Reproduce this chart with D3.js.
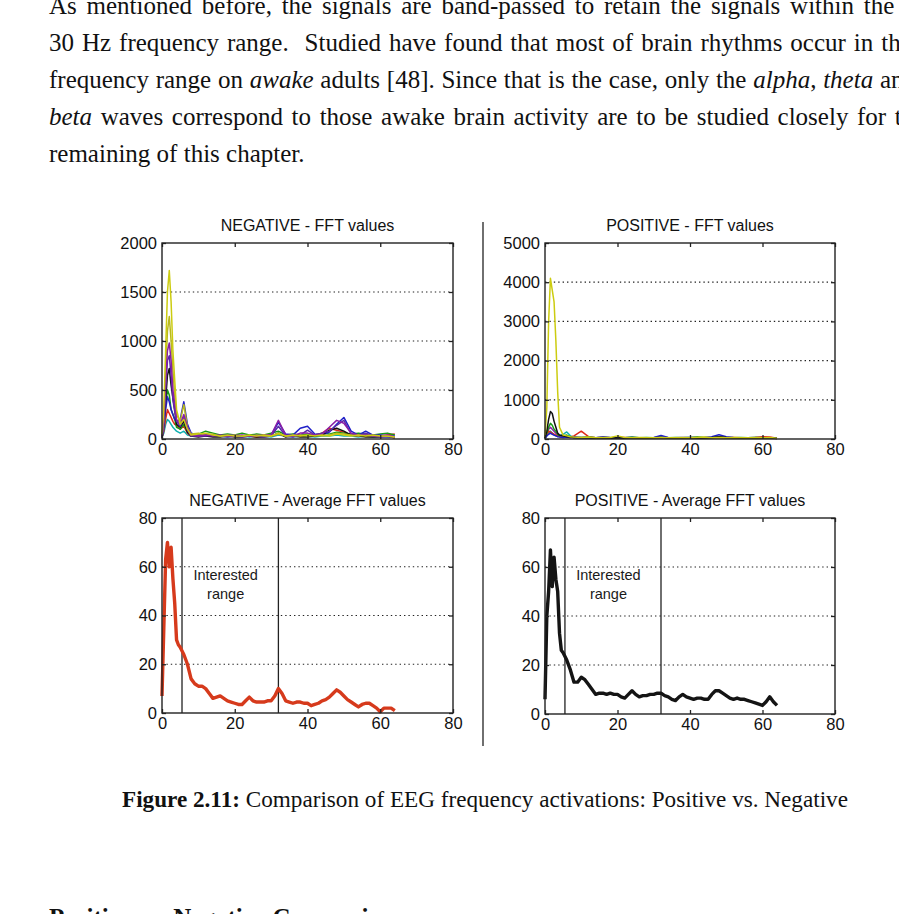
<!DOCTYPE html>
<html><head><meta charset="utf-8">
<script src="https://cdn.jsdelivr.net/npm/d3@7"></script>
<style>body{margin:0;background:#fff} svg{display:block}</style>
</head><body>
<svg id="c" width="899" height="914"></svg>
<script>
// ---------- DATA ----------
const fftFreq = [0,0.5,1,1.5,2,2.5,3,3.5,4,5,6,7,8,10,12,14,16,18,20,22,24,26,28,30,32,34,36,38,40,42,44,46,48,50,52,54,56,58,60,62,64];

const negYellow  = [50,300,900,1500,1720,1400,900,600,300,150,200,100,40,50,60,40,30,40,30,30,40,30,40,30,60,30,40,30,40,30,40,30,50,40,30,40,30,40,30,30,20];
const negMagenta = [20,200,600,900,980,800,500,350,200,150,250,120,40,30,40,30,40,30,30,40,30,30,40,40,190,40,30,60,60,40,50,120,190,160,60,40,40,30,30,40,20];
const negBlack   = [10,150,400,650,720,550,420,300,150,120,180,70,30,20,30,20,20,30,20,20,30,20,20,30,60,20,30,20,20,30,40,90,110,80,40,30,20,20,20,30,10];
const negBlue    = [30,150,300,430,380,300,250,200,180,200,380,150,60,40,50,40,30,40,40,30,30,40,30,40,170,50,40,110,130,50,40,70,150,220,80,40,80,40,40,30,30];
const negGreen   = [20,100,350,500,450,300,250,200,120,100,150,70,40,50,80,60,40,50,40,60,40,50,40,60,80,40,50,40,50,40,60,50,70,60,50,60,50,40,50,60,40];
const negRed     = [20,80,200,300,260,220,180,150,140,100,130,60,30,40,30,40,30,30,40,30,30,20,30,30,50,30,30,30,40,30,60,110,90,70,40,30,30,30,30,40,50];
const negCyan    = [20,60,150,200,180,150,120,100,80,60,80,40,30,30,40,30,30,20,30,30,20,30,30,20,40,30,20,30,30,20,30,30,40,30,30,20,30,20,30,20,20];
const negViolet  = [15,100,500,800,850,650,400,280,180,130,220,90,30,30,30,40,30,20,30,20,30,30,20,30,130,30,20,40,90,40,60,80,140,190,50,30,60,30,20,20,20];
const negOlive   = [30,200,700,1100,1250,1000,700,450,250,180,350,120,50,60,40,50,30,30,40,30,30,40,30,30,50,30,30,40,30,40,30,40,60,50,40,30,40,30,30,30,20];

const posYellow  = [50,800,3000,4100,3800,3500,2500,1200,300,100,80,60,50,40,50,30,40,40,80,40,30,40,30,30,40,30,30,40,30,40,50,30,40,30,40,30,30,40,30,40,20];
const posBlack   = [20,200,500,700,650,450,300,150,100,80,60,50,40,30,30,20,30,20,30,20,30,20,20,30,40,20,30,20,30,20,30,40,60,40,30,20,30,20,20,30,10];
const posGreen   = [20,150,300,400,350,250,200,120,80,80,100,60,40,40,50,30,40,30,40,30,50,30,40,30,50,30,40,30,40,50,40,30,50,40,30,40,30,40,30,30,20];
const posRed     = [20,100,200,180,150,120,100,80,60,50,60,50,80,200,60,30,40,30,30,40,30,30,20,30,40,30,20,30,30,40,30,30,40,30,40,30,30,40,60,50,20];
const posCyan    = [20,80,150,200,150,100,80,60,80,120,180,80,40,30,40,30,30,20,30,30,20,30,30,20,30,30,20,30,30,20,30,30,30,20,30,20,30,20,30,20,20];
const posBlue    = [20,80,120,150,120,100,80,60,50,40,50,40,60,40,40,30,60,40,30,30,40,30,30,40,90,40,30,40,40,30,40,60,110,60,40,30,30,40,30,30,20];
const posMagenta = [20,100,250,300,250,200,150,100,70,60,50,40,30,30,30,20,30,20,30,20,20,30,20,20,40,20,30,20,30,20,20,30,50,30,20,20,20,30,20,20,10];

const avgFreq = [0,0.5,1,1.5,2,2.5,3,3.5,4,4.5,5,6,7,8,9,10,11,12,13,14,15,16,17,18,19,20,21,22,23,24,25,26,27,28,29,30,31,32,33,34,35,36,37,38,39,40,41,42,43,44,45,46,47,48,49,50,51,52,53,54,55,56,57,58,59,60,61,62,63,64];
const negAvg = [7,35,63,70,60,68,55,45,30,28,27,24,20,14,12,11,11,10,8,6,6.5,7,6,5,4.5,4,3.5,3.5,5,6.5,5,4.5,4.5,4.5,5,5,7,10,8,5,4.5,4,4.5,4.5,4,4,3,3.5,4,5,5.5,6.5,8,9.5,8.5,7,5.5,4.5,3.5,2.5,3.5,4,4,3,2,0.5,2,2,2,1];
const posAvg = [6,40,50,67,52,64,55,50,33,26,25,22,18,13,13,15,14,12,10,8,8.5,8.5,8,8.5,8,8,7,6.5,8,9.5,8,7,7.5,7.5,8,8,8.5,8.5,7.5,7,6,5.5,7,8,7,6.5,6,6.5,6.5,6,6,8,9.5,9.5,8.5,7.5,6.5,6,6.5,6,6,5.5,5,4.5,4,3.5,5,7,5,3.5];

const rangeLines = [5.5, 32];
const xTicks = [0,20,40,60,80];
const yTicksNegFFT = [0,500,1000,1500,2000];
const yTicksPosFFT = [0,1000,2000,3000,4000,5000];
const yTicksAvg = [0,20,40,60,80];

const titles = ["NEGATIVE - FFT values","POSITIVE - FFT values","NEGATIVE - Average FFT values","POSITIVE - Average FFT values"];
const rangeLabel = ["Interested","range"];

const bodyLines = [
  [["As mentioned before, the signals are band-passed to retain the signals within the 0.5 -",""]],
  [["30 Hz frequency range.  Studied have found that most of brain rhythms occur in the",""]],
  [["frequency range on ",""],["awake","i"],[" adults [48]. Since that is the case, only the ",""],["alpha","i"],[", ",""],["theta","i"],[" and",""]],
  [["beta","i"],[" waves correspond to those awake brain activity are to be studied closely for the",""]],
  [["remaining of this chapter.",""]]
];
const captionBold = "Figure 2.11:";
const captionText = " Comparison of EEG frequency activations: Positive vs. Negative";
const nextHeading = "Positive vs. Negative Comparison";

// ---------- DRAW ----------
const svg = d3.select("#c");
svg.append("rect").attr("width",899).attr("height",914).attr("fill","#fff");

const serif = "'Liberation Serif','Times New Roman',serif";
const sans = "'Liberation Sans',Arial,Helvetica,sans-serif";
const wordSpacing = [3.5,1.7,0.5,2.4,0];

bodyLines.forEach((ln,i)=>{
  const t = svg.append("text").attr("x",49).attr("y",14+i*37)
    .attr("font-family",serif).attr("font-size",25).attr("fill","#111")
    .attr("word-spacing",wordSpacing[i]).attr("xml:space","preserve").style("white-space","pre");
  ln.forEach(([s,st])=>{
    const ts = t.append("tspan").text(s);
    if(st==="i") ts.attr("font-style","italic");
  });
});

const cap = svg.append("text").attr("x",122).attr("y",807)
  .attr("font-family",serif).attr("font-size",23).attr("fill","#111")
  .attr("textLength",726).attr("lengthAdjust","spacingAndGlyphs");
cap.append("tspan").attr("font-weight","bold").text(captionBold);
cap.append("tspan").text(captionText);

svg.append("text").attr("x",49).attr("y",926).attr("font-family",serif)
  .attr("font-size",25).attr("font-weight","bold").attr("fill","#111").text(nextHeading);

svg.append("line").attr("x1",483).attr("x2",483).attr("y1",222).attr("y2",746)
  .attr("stroke","#222").attr("stroke-width",1.3);

const C = {y:"#cccc10", o:"#b8b820", m:"#8a1fa6", k:"#111111", b:"#2020c8", g:"#169a16", r:"#e02818", c:"#10b0b0", v:"#5a2aa8"};

const panels = [
  {x0:162,x1:453,y0:243,y1:439,ymax:2000,yt:yTicksNegFFT,title:titles[0],
   series:[[negCyan,C.c],[negRed,C.r],[negGreen,C.g],[negBlue,C.b],[negBlack,C.k],[negViolet,C.v],[negOlive,C.o],[negMagenta,C.m],[negYellow,C.y]], freq:fftFreq, sw:1.5},
  {x0:545,x1:835,y0:243,y1:439,ymax:5000,yt:yTicksPosFFT,title:titles[1],
   series:[[posMagenta,C.m],[posCyan,C.c],[posRed,C.r],[posGreen,C.g],[posBlue,C.b],[posBlack,C.k],[posYellow,C.y]], freq:fftFreq, sw:1.5},
  {x0:162,x1:453,y0:518,y1:713,ymax:80,yt:yTicksAvg,title:titles[2],
   series:[[negAvg,"#d63a1c"]], freq:avgFreq, sw:3.4, range:true},
  {x0:545,x1:835,y0:518,y1:714,ymax:80,yt:yTicksAvg,title:titles[3],
   series:[[posAvg,"#141414"]], freq:avgFreq, sw:3.4, range:true}
];

panels.forEach(p=>{
  const x = d3.scaleLinear().domain([0,80]).range([p.x0,p.x1]);
  const y = d3.scaleLinear().domain([0,p.ymax]).range([p.y1,p.y0]);
  const g = svg.append("g");
  g.selectAll("line.grid").data(p.yt.filter(v=>v>0 && v<p.ymax)).join("line")
    .attr("x1",p.x0).attr("x2",p.x1).attr("y1",d=>y(d)).attr("y2",d=>y(d))
    .attr("stroke","#222").attr("stroke-width",1.2).attr("stroke-dasharray","1.4,3");
  if(p.range){
    g.selectAll("line.rng").data(rangeLines).join("line")
      .attr("x1",d=>x(d)).attr("x2",d=>x(d)).attr("y1",p.y0).attr("y2",p.y1)
      .attr("stroke","#222").attr("stroke-width",1.3);
    const tt = g.append("text").attr("font-family",sans).attr("font-size",14.5)
      .attr("text-anchor","middle").attr("fill","#1a1a1a");
    rangeLabel.forEach((s,i)=>tt.append("tspan").attr("x",x(17.5)).attr("y",p.y0+62+i*19).text(s));
  }
  const line = d3.line().x((d,i)=>x(p.freq[i])).y(d=>y(d));
  p.series.forEach(([vals,col])=>{
    g.append("path").attr("d",line(vals)).attr("fill","none").attr("stroke",col)
      .attr("stroke-width",p.sw).attr("stroke-linejoin","round");
  });
  const ax = d3.axisBottom(x).tickValues(xTicks).tickSizeInner(-4).tickSizeOuter(0).tickPadding(4).tickFormat(d3.format("d"));
  const ay = d3.axisLeft(y).tickValues(p.yt).tickSizeInner(-4).tickSizeOuter(0).tickPadding(5).tickFormat(d3.format("d"));
  const axT = d3.axisTop(x).tickValues(xTicks).tickSizeInner(-4).tickSizeOuter(0).tickFormat("");
  const ayR = d3.axisRight(y).tickValues(p.yt).tickSizeInner(-4).tickSizeOuter(0).tickFormat("");
  [[ax,`translate(0,${p.y1})`],[ay,`translate(${p.x0},0)`],[axT,`translate(0,${p.y0})`],[ayR,`translate(${p.x1},0)`]].forEach(([a,tr])=>{
    const gg = g.append("g").attr("transform",tr).call(a);
    gg.select(".domain").remove();
    gg.selectAll("line").attr("stroke","#222").attr("stroke-width",1.3);
    gg.selectAll("text").attr("font-family",sans).attr("font-size",16.5).attr("fill","#111");
  });
  g.append("rect").attr("x",p.x0).attr("y",p.y0).attr("width",p.x1-p.x0).attr("height",p.y1-p.y0)
    .attr("fill","none").attr("stroke","#222").attr("stroke-width",1.4);
  g.append("text").attr("x",(p.x0+p.x1)/2).attr("y",p.y0-12).attr("text-anchor","middle")
    .attr("font-family",sans).attr("font-size",16).attr("fill","#111").text(p.title);
});
</script>
</body></html>
